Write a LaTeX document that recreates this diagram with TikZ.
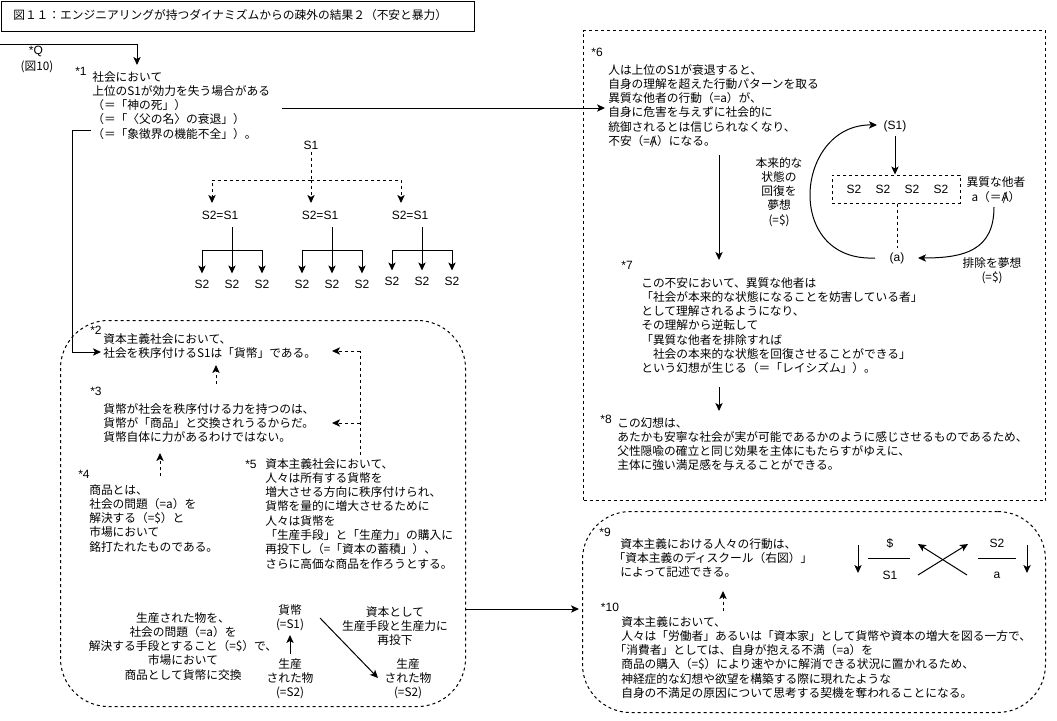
\documentclass[tikz,border=0pt]{standalone}
\usepackage{fontspec}
\setmainfont{Noto Sans CJK JP}
\newfontfamily\latf{Liberation Sans}
\usetikzlibrary{arrows.meta}
\newcommand\jpf{\fontsize{8.8pt}{10.7pt}\selectfont}
\newcommand\latsz{\latf\fontsize{9pt}{10.7pt}\selectfont}
\newcommand\barA{\ooalign{A\cr\hidewidth/\hidewidth\cr}}
\begin{document}
\begin{tikzpicture}[x=0.75pt,y=-0.75pt,
  txt/.style={font=\jpf, inner sep=0pt, align=left, anchor=north west, text=black},
  ctxt/.style={font=\jpf, inner sep=0pt, align=center, text=black},
  lbl/.style={font=\jpf, inner sep=0pt, text=black},
  llbl/.style={font=\latsz, inner sep=0pt, text=black},
  ln/.style={line width=0.75pt, draw=black},
  arr/.style={ln, -{Stealth[length=6pt,width=5.5pt,inset=1.5pt]}},
  dsh/.style={dash pattern=on 2.25pt off 2.25pt},
  dbox/.style={ln, dsh, inner sep=0pt, anchor=north west},
]
\useasboundingbox (0,0) rectangle (1057,721);

% title
\node[draw, ln, anchor=north west, inner sep=0pt, minimum width=355.1pt, minimum height=23pt] (tbox) at (0.5,0.5) {};
\node[lbl, anchor=west] (title) at (13,15.5) {図１１：エンジニアリングが持つダイナミズムからの疎外の結果２（不安と暴力）};

% boxes
\node[dbox, rounded corners=36pt, minimum width=303.75pt, minimum height=289.5pt] (lbox) at (60,320) {};
\node[dbox, minimum width=346.5pt, minimum height=352.5pt] (rbox1) at (583,30) {};
\node[dbox, rounded corners=36pt, minimum width=347.25pt, minimum height=150.75pt] (rbox2) at (582,511) {};

% *Q
\node[llbl] (q) at (36,51) {*Q};
\node[lbl] (q2) at (37,67) {(図10)};
\coordinate (qin) at (0,44);
\coordinate (qend) at (137,65);
\draw[arr] (qin) -| (qend);

% *1
\node[llbl] (s1) at (81,71) {*1};
\node[txt] (n1) at (92,71) {社会において\\上位のS1が効力を失う場合がある\\（＝「神の死」）\\（＝「〈父の名〉の衰退」）\\（＝「象徴界の機能不全」）。};

% tree
\node[llbl] (t0) at (311,145) {S1};
\coordinate (tj) at (311,180);
\node[llbl] (t1) at (220,215) {S2=S1};
\node[llbl] (t2) at (320,215) {S2=S1};
\node[llbl] (t3) at (410,215) {S2=S1};
\coordinate (d1) at (212,203);
\coordinate (d2) at (311,203);
\coordinate (d3) at (401,203);
\draw[ln, dsh, shorten <=2pt] (t0) -- (tj);
\draw[arr, dsh] (tj) -| (d1);
\draw[arr, dsh] (tj) -- (d2);
\draw[arr, dsh] (tj) -| (d3);
\foreach \b/\k/\ly in {232/1/284, 332/2/284, 422/3/281} {
  \coordinate (u\k) at (\b,227);
  \coordinate (j\k) at (\b,250);
  \draw[ln] (u\k) -- (j\k);
  \foreach \dx/\m in {-30/a,0/b,30/c} {
    \node[llbl] (c\k\m) at (\b+\dx,\ly) {S2};
    \draw[arr, shorten >=4.5pt] (j\k) -| (c\k\m.north);
  }
}

% *1 -> *6 and *1 -> *2
\coordinate (o16) at (282,108);
\coordinate (e16) at (605,108);
\draw[arr] (o16) -- (e16);
\coordinate (o12) at (91,130);
\coordinate (v12) at (72,352);
\coordinate (e2) at (101,352);
\draw[arr] (o12) -| (v12) -- (e2);

% *2 *3 *4 *5
\node[llbl] (s2) at (96,330) {*2};
\node[txt] (n2) at (103,333) {資本主義社会において、\\社会を秩序付けるS1は「貨幣」である。};
\node[llbl] (s3) at (96,391) {*3};
\node[txt] (n3) at (103,403) {貨幣が社会を秩序付ける力を持つのは、\\貨幣が「商品」と交換されうるからだ。\\貨幣自体に力があるわけではない。};
\coordinate (a32s) at (216,384);
\coordinate (a32e) at (216,365);
\draw[arr, dsh] (a32s) -- (a32e);
\node[llbl] (s4) at (84,474) {*4};
\node[txt] (n4) at (89,484) {商品とは、\\社会の問題（=a）を\\解決する（=\$）と\\市場において\\銘打たれたものである。};
\coordinate (a43s) at (160,476);
\coordinate (a43e) at (160,453);
\draw[arr, dsh] (a43s) -- (a43e);
\node[llbl] (s5) at (251,464) {*5};
\node[txt] (n5) at (265,458) {資本主義社会において、\\人々は所有する貨幣を\\増大させる方向に秩序付けられ、\\貨幣を量的に増大させるために\\人々は貨幣を\\「生産手段」と「生産力」の購入に\\再投下し（=「資本の蓄積」）、\\さらに高価な商品を作ろうとする。};
\coordinate (v5b) at (360,455);
\coordinate (v5t) at (360,351);
\coordinate (v5m) at (360,423);
\coordinate (e52) at (332,351);
\coordinate (e53) at (332,423);
\draw[ln, dsh] (v5b) -- (v5t);
\draw[arr, dsh] (v5t) -- (e52);
\draw[arr, dsh] (v5m) -- (e53);

% bottom of left box
\node[ctxt, anchor=north] (b1) at (183,612) {生産された物を、\\社会の問題（=a）を\\解決する手段とすること（=\$）で、\\市場において\\商品として貨幣に交換};
\node[ctxt, anchor=north] (b2) at (290,604) {貨幣\\(=S1)};
\node[ctxt, anchor=north] (b3) at (290,658) {生産\\された物\\(=S2)};
\draw[arr, shorten <=3pt, shorten >=3pt] (b3.north) -- (b2.south);
\node[ctxt, anchor=north] (b4) at (395,606) {資本として\\生産手段と生産力に\\再投下};
\node[ctxt, anchor=north] (b5) at (408,658) {生産\\された物\\(=S2)};
\coordinate (dg1) at (320,618);
\coordinate (dg2) at (378,678);
\draw[arr] (dg1) -- (dg2);

% left box -> bottom right box
\coordinate (x1) at (465,609);
\coordinate (x2) at (579,609);
\draw[arr] (x1) -- (x2);

% *6
\node[llbl] (s6) at (597,52) {*6};
\node[txt] (n6) at (608,64) {人は上位のS1が衰退すると、\\自身の理解を超えた行動パターンを取る\\異質な他者の行動（=a）が、\\自身に危害を与えずに社会的に\\統御されるとは信じられなくなり、\\不安（=\barA）になる。};

% small cycle diagram
\node[llbl] (ps1) at (895,126) {(S1)};
\node[ln, dsh, draw, inner sep=0pt, minimum width=96pt, minimum height=21pt] (s2box) at (896,189) {};
\foreach \x/\k in {854/1,883/2,912/3,941/4} {
  \node[llbl] (ss\k) at (\x,189) {S2};
}
\node[llbl] (pa) at (897,258) {(a)};
\draw[arr, shorten <=3pt] (ps1.south) -- (ps1.south |- s2box.north);
\draw[ln, dsh, shorten >=3pt] (s2box.south -| pa.north) -- (pa.north);
\coordinate (cs) at (875,258);
\coordinate (ce) at (877,125);
\draw[arr] (cs) .. controls (783,262) and (795,124) .. (ce);
\node[ctxt] (ot) at (996,190) {異質な他者\\a（＝\barA）};
\coordinate (ots) at (994,207);
\coordinate (pae) at (918,258);
\draw[arr] (ots) .. controls (994,250) and (965,258) .. (pae);
\node[ctxt] (ex) at (992,271) {排除を夢想\\(=\$)};
\node[ctxt, anchor=north] (hr) at (779,157) {本来的な\\状態の\\回復を\\夢想\\(=\$)};

% long arrow *6 -> *7
\coordinate (l1s) at (719,155);
\coordinate (l1e) at (719,260);
\draw[arr] (l1s) -- (l1e);

% *7
\node[llbl] (s7) at (627,265) {*7};
\node[txt] (n7) at (641,277) {この不安において、異質な他者は\\「社会が本来的な状態になることを妨害している者」\\として理解されるようになり、\\その理解から逆転して\\「異質な他者を排除すれば\\\hspace*{1em}社会の本来的な状態を回復させることができる」\\という幻想が生じる（＝「レイシズム」）。};
\coordinate (a78s) at (719,387);
\coordinate (a78e) at (719,411);
\draw[arr] (a78s) -- (a78e);

% *8
\node[llbl] (s8) at (606,419) {*8};
\node[txt] (n8) at (617,417) {この幻想は、\\あたかも安寧な社会が実が可能であるかのように感じさせるものであるため、\\父性隠喩の確立と同じ効果を主体にもたらすがゆえに、\\主体に強い満足感を与えることができる。};

% *9
\node[llbl] (s9) at (605,532) {*9};
\node[txt] (n9) at (620,538) {資本主義における人々の行動は、\\\kern-5pt「資本主義のディスクール（右図）」\\によって記述できる。};

% discourse
\node[llbl] (dS) at (890,543) {\$};
\node[llbl] (dS1) at (890,575) {S1};
\node[llbl] (dS2) at (997,543) {S2};
\node[llbl] (da) at (997,575) {a};
\coordinate (f1a) at (868,558); \coordinate (f1b) at (910,558);
\coordinate (f2a) at (978,558); \coordinate (f2b) at (1016,558);
\draw[ln] (f1a) -- (f1b);
\draw[ln] (f2a) -- (f2b);
\coordinate (la1) at (858,545); \coordinate (la2) at (858,573);
\coordinate (ra1) at (1027,545); \coordinate (ra2) at (1027,573);
\draw[arr] (la1) -- (la2);
\draw[arr] (ra1) -- (ra2);
\coordinate (xa1) at (918,575); \coordinate (xa2) at (968,544);
\coordinate (xb1) at (967,575); \coordinate (xb2) at (918,544);
\draw[arr] (xa1) -- (xa2);
\draw[arr] (xb1) -- (xb2);

% *10
\coordinate (a109s) at (723,611);
\coordinate (a109e) at (723,591);
\draw[arr, dsh] (a109s) -- (a109e);
\node[llbl] (s10) at (610,607) {*10};
\node[txt] (n10) at (621,616) {資本主義において、\\人々は「労働者」あるいは「資本家」として貨幣や資本の増大を図る一方で、\\\kern-5pt「消費者」としては、自身が抱える不満（=a）を\\商品の購入（=\$）により速やかに解消できる状況に置かれるため、\\神経症的な幻想や欲望を構築する際に現れたような\\自身の不満足の原因について思考する契機を奪われることになる。};
\end{tikzpicture}
\end{document}
